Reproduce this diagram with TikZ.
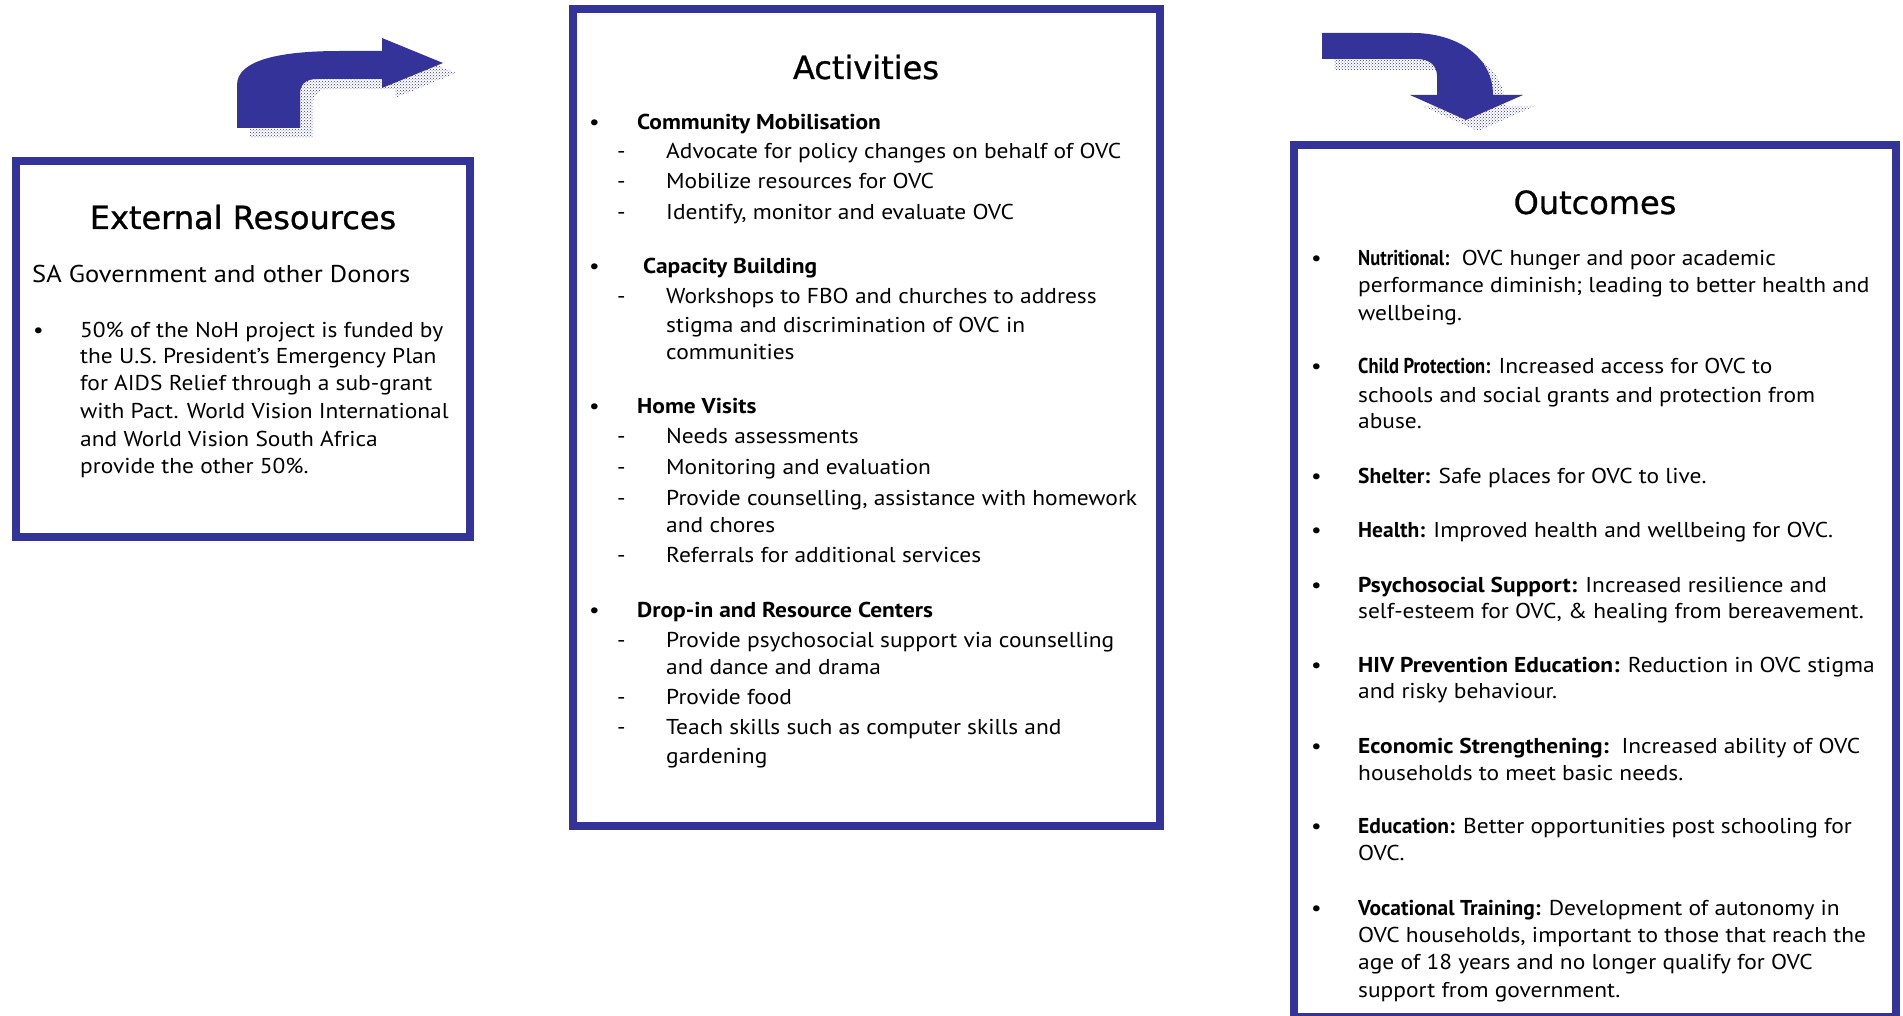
\documentclass[tikz,border=0pt]{standalone}
\usepackage{fontspec}
\setmainfont{PT Sans}[FakeStretch=1.09]
\newfontfamily\lblfont{PT Sans}
\newfontfamily\narrowfont{PT Sans}[FakeStretch=0.86]
\newfontfamily\headfont{DejaVu Sans}[FakeBold=0.9]
\usetikzlibrary{patterns}
\definecolor{boxblue}{HTML}{333399}
\newcommand{\lbl}[1]{{\lblfont\bfseries #1}}
\newcommand{\lbln}[1]{{\narrowfont\bfseries #1}}
\newcommand{\lblw}[1]{{\bfseries #1}}

\begin{document}
\begin{tikzpicture}[x=1pt, y=-1pt,
    frame/.style={draw=boxblue, line width=8pt},
    head/.style={font=\headfont\fontsize{32}{38}\selectfont, anchor=base, inner sep=0pt},
    txt/.style={font=\fontsize{21.5}{28}\selectfont, anchor=base west, inner sep=0pt},
    bold/.style={txt, font=\fontsize{21.5}{28}\selectfont\bfseries},
    shade/.style={pattern=crosshatch dots, pattern color=boxblue}]
    \useasboundingbox (0,0) rectangle (1903,1016);

    % Bent arrow from External Resources towards Activities
    \fill[shade, xshift=13pt, yshift=-10pt] (237,128) -- (237,85) .. controls (237,60) and (280,51) .. (340,51) -- (382,51) -- (382,38) -- (443,63) -- (382,88) -- (382,79) -- (317,79) .. controls (305,79) and (300,85) .. (300,94) -- (300,128) -- cycle;
    \fill[boxblue] (237,128) -- (237,85) .. controls (237,60) and (280,51) .. (340,51) -- (382,51) -- (382,38) -- (443,63) -- (382,88) -- (382,79) -- (317,79) .. controls (305,79) and (300,85) .. (300,94) -- (300,128) -- cycle;

    % Bent arrow from Activities down to Outcomes
    \fill[shade, xshift=12pt, yshift=-11pt] (1322,33) -- (1413,33) .. controls (1455,33) and (1493,55) .. (1493,95) -- (1523,95) -- (1466,120) -- (1410,95) -- (1437,95) -- (1437,76) .. controls (1437,66) and (1430,59) .. (1417,59) -- (1322,59) -- cycle;
    \fill[boxblue] (1322,33) -- (1413,33) .. controls (1455,33) and (1493,55) .. (1493,95) -- (1523,95) -- (1466,120) -- (1410,95) -- (1437,95) -- (1437,76) .. controls (1437,66) and (1430,59) .. (1417,59) -- (1322,59) -- cycle;

    % External Resources
    \draw[frame] (16,161) rectangle (470,537);
    \node[head] (exthead) at (243,229) {External Resources};
    \node[txt, font=\fontsize{24.3}{30}\selectfont] (extsub) at (32,283) {SA Government and other Donors};
    \node[txt] (extdot) at (33,337) {•};
    \foreach \y/\t [count=\i] in {337/50\% of the NoH project is funded by,
        363/the U.S. President’s Emergency Plan,
        390/for AIDS Relief through a sub-grant,
        418/with Pact. World Vision International,
        446/and World Vision South Africa,
        473/provide the other 50\%.}
        \node[txt] (ext\i) at (80,\y) {\t};

    % Activities
    \draw[frame] (573,9) rectangle (1160,826);
    \node[head] (acthead) at (866,79) {Activities};
    \foreach \y/\x/\t [count=\i] in {130/637/Community Mobilisation, 274/643/Capacity Building,
        413/637/Home Visits, 617/637/Drop-in and Resource Centers}
    {
        \node[txt] (actdot\i) at (589,\y) {•};
        \node[bold] (acttop\i) at (\x,\y) {\t};
    }
    \foreach \y [count=\i] in {159,189,220,304,443,474,505,562,647,704,734}
        \node[txt] (actdash\i) at (617,\y) {-};
    \foreach \y/\t [count=\i] in {159/Advocate for policy changes on behalf of OVC,
        189/Mobilize resources for OVC,
        220/{Identify, monitor and evaluate OVC},
        304/Workshops to FBO and churches to address,
        332/stigma and discrimination of OVC in,
        359/communities,
        443/Needs assessments,
        474/Monitoring and evaluation,
        505/{Provide counselling, assistance with homework},
        532/and chores,
        562/Referrals for additional services,
        647/Provide psychosocial support via counselling,
        674/and dance and drama,
        704/Provide food,
        734/Teach skills such as computer skills and,
        763/gardening}
        \node[txt] (act\i) at (666,\y) {\t};

    % Outcomes
    \draw[frame] (1294,145) rectangle (1896,1017);
    \node[head] (outhead) at (1595,214) {Outcomes};
    \foreach \y [count=\i] in {266,373,483,537,592,672,753,833,915}
        \node[txt] (outdot\i) at (1311,\y) {•};
    \foreach \y/\t [count=\i] in {266/{\lbln{Nutritional:}\ \ OVC hunger and poor academic},
        293/performance diminish; leading to better health and,
        320/wellbeing.,
        373/{\lbln{Child Protection:} Increased access for OVC to},
        402/schools and social grants and protection from,
        428/abuse.,
        483/{\lbl{Shelter:} Safe places for OVC to live.},
        537/{\lbl{Health:} Improved health and wellbeing for OVC.},
        592/{\lblw{Psychosocial Support:} Increased resilience and},
        618/{self-esteem for OVC, \& healing from bereavement.},
        672/{\lblw{HIV Prevention Education:} Reduction in OVC stigma},
        698/and risky behaviour.,
        753/{\lblw{Economic Strengthening:}\ \ Increased ability of OVC},
        780/households to meet basic needs.,
        833/{\lbl{Education:} Better opportunities post schooling for},
        860/OVC.,
        915/{\lbl{Vocational Training:} Development of autonomy in},
        942/{OVC households, important to those that reach the},
        969/age of 18 years and no longer qualify for OVC,
        997/support from government.}
        \node[txt] (out\i) at (1358,\y) {\t};
\end{tikzpicture}
\end{document}
